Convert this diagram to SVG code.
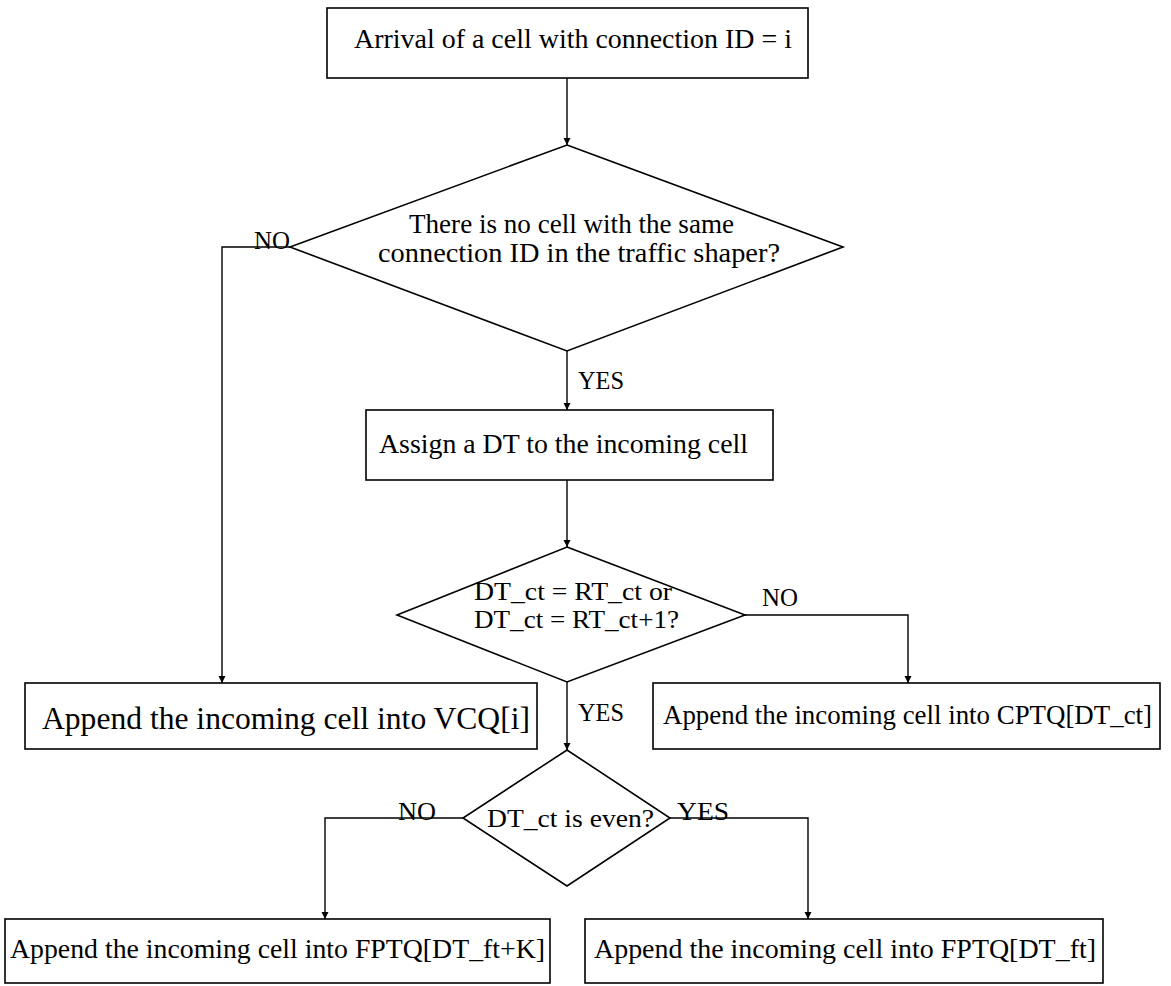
<svg xmlns="http://www.w3.org/2000/svg" width="1171" height="986" viewBox="0 0 1171 986">
<style>
.box{fill:#fff;stroke:#000;stroke-width:1.6}
.dia{fill:#fff;stroke:#000;stroke-width:1.6}
.c{fill:none;stroke:#000;stroke-width:1.4}
text{font-family:"Liberation Serif","Times New Roman",serif;font-size:28px;fill:#000}
.lbl{font-size:26px}
.sm{font-size:26px}
</style>
<defs>
<marker id="ah" viewBox="0 0 10 20" refX="10" refY="10" markerWidth="7" markerHeight="16" markerUnits="userSpaceOnUse" orient="auto">
<path d="M0,5 L10,10 L0,15 Z" fill="#000"/>
</marker>
</defs>
<rect width="1171" height="986" fill="#fff"/>
<g id="connectors">
<path class="c" d="M567,78 V145" marker-end="url(#ah)"/>
<path class="c" d="M290,247 H222 V683" marker-end="url(#ah)"/>
<path class="c" d="M567,351 V410" marker-end="url(#ah)"/>
<path class="c" d="M567,480 V547" marker-end="url(#ah)"/>
<path class="c" d="M745,615 H908 V683" marker-end="url(#ah)"/>
<path class="c" d="M567,682 V750" marker-end="url(#ah)"/>
<path class="c" d="M463,818 H325 V919" marker-end="url(#ah)"/>
<path class="c" d="M670,818 H808 V919" marker-end="url(#ah)"/>
<text class="lbl" x="254" y="249" textLength="36" lengthAdjust="spacingAndGlyphs">NO</text>
<text class="lbl" x="578" y="389" textLength="46" lengthAdjust="spacingAndGlyphs">YES</text>
<text class="lbl" x="762" y="606" textLength="36" lengthAdjust="spacingAndGlyphs">NO</text>
<text class="lbl" x="578" y="721" textLength="46" lengthAdjust="spacingAndGlyphs">YES</text>
<text class="lbl" x="398" y="820" textLength="38" lengthAdjust="spacingAndGlyphs">NO</text>
<text class="lbl" x="677" y="820" textLength="52" lengthAdjust="spacingAndGlyphs">YES</text>
</g>
<g id="start">
<rect class="box" x="327" y="8" width="481" height="70"/>
<text x="354" y="48" textLength="438" lengthAdjust="spacingAndGlyphs">Arrival of a cell with connection ID = i</text>
</g>
<g id="check-same">
<polygon class="dia" points="567,145 843,247 567,351 290,247"/>
<text x="409" y="233" textLength="325" lengthAdjust="spacingAndGlyphs">There is no cell with the same</text>
<text x="378" y="262" textLength="402" lengthAdjust="spacingAndGlyphs">connection ID in the traffic shaper?</text>
</g>
<g id="assign">
<rect class="box" x="366" y="410" width="407" height="70"/>
<text x="379" y="453" textLength="369" lengthAdjust="spacingAndGlyphs">Assign a DT to the incoming cell</text>
</g>
<g id="check-dt">
<polygon class="dia" points="567,547 745,615 567,682 397,615"/>
<text class="sm" x="474" y="600" textLength="198" lengthAdjust="spacingAndGlyphs">DT_ct = RT_ct or</text>
<text class="sm" x="474" y="628" textLength="205" lengthAdjust="spacingAndGlyphs">DT_ct = RT_ct+1?</text>
</g>
<g id="vcq">
<rect class="box" x="25" y="683" width="512" height="66"/>
<text x="42" y="729" style="font-size:31px" textLength="488" lengthAdjust="spacingAndGlyphs">Append the incoming cell into VCQ[i]</text>
</g>
<g id="cptq">
<rect class="box" x="653" y="683" width="507" height="66"/>
<text x="663" y="724" textLength="489" lengthAdjust="spacingAndGlyphs">Append the incoming cell into CPTQ[DT_ct]</text>
</g>
<g id="check-even">
<polygon class="dia" points="567,750 670,818 567,886 463,818"/>
<text class="sm" x="487" y="827" textLength="167" lengthAdjust="spacingAndGlyphs">DT_ct is even?</text>
</g>
<g id="fptq-k">
<rect class="box" x="5" y="919" width="545" height="64"/>
<text x="10" y="958" textLength="535" lengthAdjust="spacingAndGlyphs">Append the incoming cell into FPTQ[DT_ft+K]</text>
</g>
<g id="fptq">
<rect class="box" x="585" y="919" width="518" height="64"/>
<text x="594" y="958" textLength="502" lengthAdjust="spacingAndGlyphs">Append the incoming cell into FPTQ[DT_ft]</text>
</g>
</svg>
